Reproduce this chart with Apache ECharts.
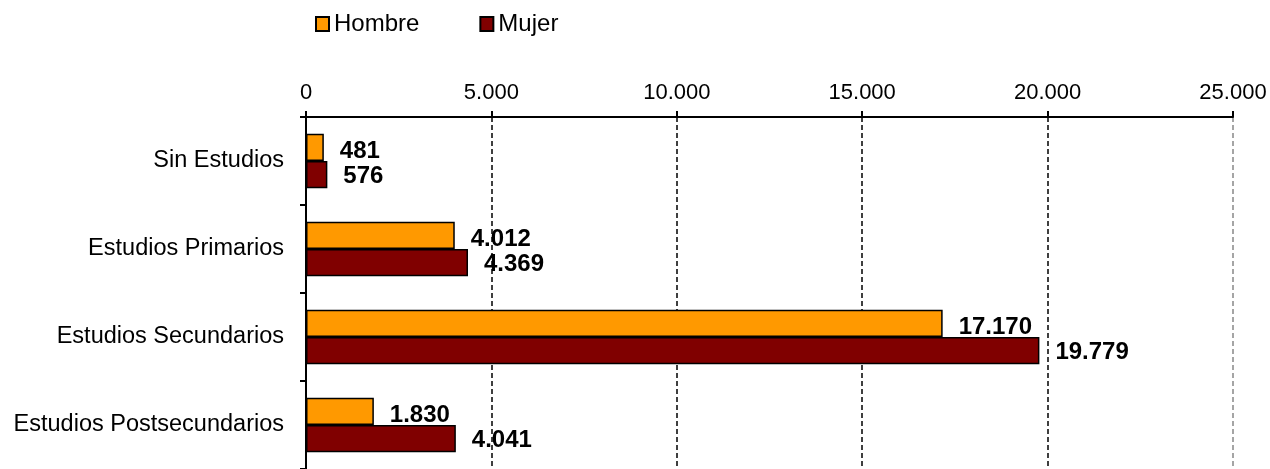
<!DOCTYPE html>
<html>
<head>
<meta charset="utf-8">
<script src="https://cdn.jsdelivr.net/npm/echarts@6/dist/echarts.min.js"></script>
<style>
html, body { margin: 0; padding: 0; background: #fff; }
#chart { width: 1270px; height: 469px; }
</style>
</head>
<body>
<div id="chart"></div>
<script>
// datos del grafico
var categorias = ['Sin Estudios', 'Estudios Primarios', 'Estudios Secundarios', 'Estudios Postsecundarios'];
var hombre = [481, 4012, 17170, 1830];
var mujer = [576, 4369, 19779, 4041];
var ticksX = [0, 5000, 10000, 15000, 20000, 25000];

// formato con punto de miles
function fmt(v) {
	return String(v).replace(/\B(?=(\d{3})+(?!\d))/g, '.');
}

var fuente = '"Liberation Sans", Arial, sans-serif';

var etiqueta = {
	show : true,
	position : 'right',
	distance : 16,
	color : '#000',
	fontWeight : 'bold',
	fontSize : 24,
	fontFamily : fuente,
	formatter : function(p) {
		return fmt(p.value);
	}
};

var myChart = echarts.init(document.getElementById('chart'));
var options = {
	animation : false,
	textStyle : { fontFamily : fuente },
	legend : {
		left : 310,
		top : 7,
		icon : 'rect',
		itemWidth : 13,
		itemHeight : 14,
		itemGap : 60,
		textStyle : { fontSize : 24, color : '#000', fontFamily : fuente },
		data : [ 'Hombre', 'Mujer' ]
	},
	grid : {
		left : 306,
		right : 37,
		top : 117,
		bottom : -4,
		containLabel : false
	},
	xAxis : {
		type : 'value',
		position : 'top',
		min : ticksX[0],
		max : ticksX[ticksX.length - 1],
		interval : 5000,
		axisLine : { show : true, lineStyle : { color : '#000', width : 2 } },
		axisTick : { show : true, length : 6, lineStyle : { color : '#000', width : 2 } },
		axisLabel : {
			fontSize : 22,
			color : '#000',
			margin : 13,
			formatter : function(v) { return fmt(v); }
		},
		splitLine : {
			show : true,
			lineStyle : {
				color : [ '#000', '#000', '#000', '#000', '#000', '#888' ],
				type : [ 5, 3 ],
				width : 1.5
			}
		}
	},
	yAxis : {
		type : 'category',
		inverse : true,
		data : categorias,
		axisLine : { show : true, lineStyle : { color : '#000', width : 2 } },
		axisTick : { show : true, length : 6, lineStyle : { color : '#000', width : 2 } },
		axisLabel : {
			fontSize : 23.5,
			color : '#000',
			margin : 22
		}
	},
	series : [ {
		name : 'Hombre',
		type : 'bar',
		data : hombre,
		barGap : '0%',
		barCategoryGap : '38%',
		itemStyle : { color : '#FF9900', borderColor : '#000', borderWidth : 1.5 },
		label : Object.assign({}, etiqueta, { offset : [ 0, 4 ] })
	}, {
		name : 'Mujer',
		type : 'bar',
		data : mujer,
		itemStyle : { color : '#800000', borderColor : '#000', borderWidth : 1.5 },
		label : Object.assign({}, etiqueta, { offset : [ 0, 2 ] })
	} ]
};
myChart.setOption(options);
</script>
</body>
</html>
